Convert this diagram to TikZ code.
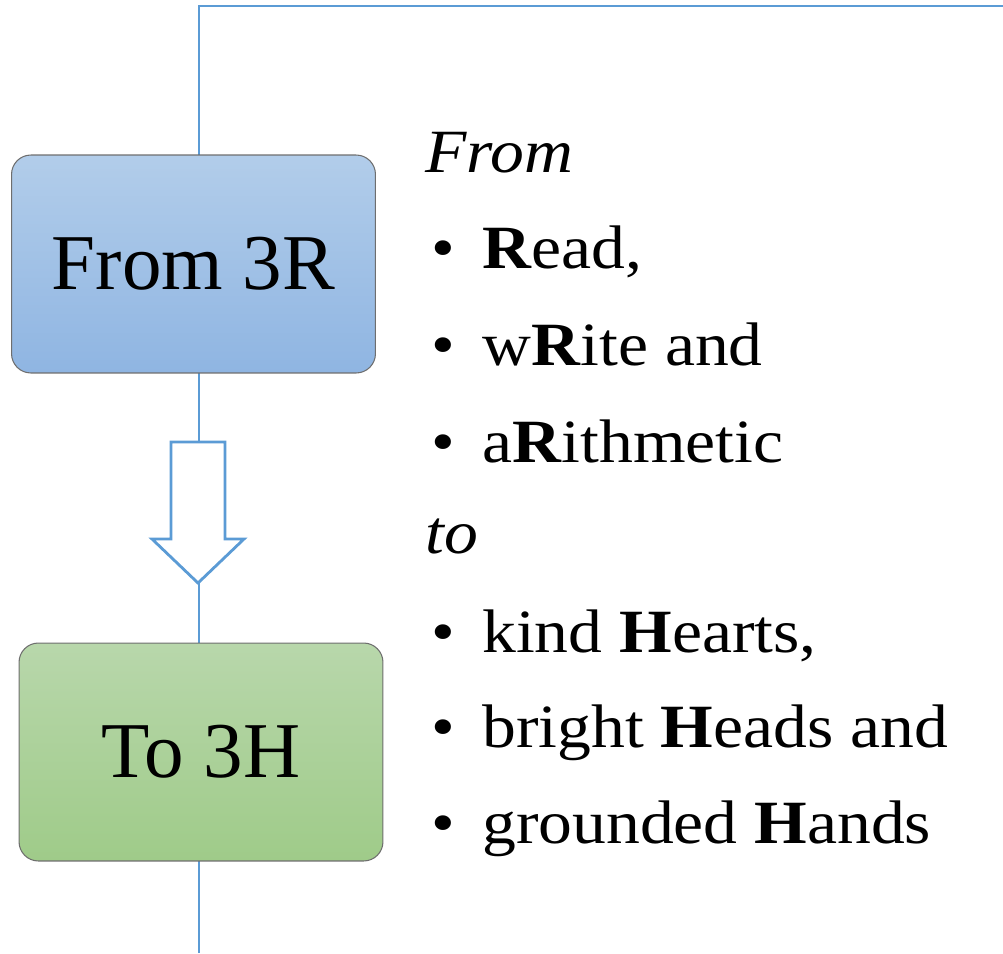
\documentclass[tikz,border=0pt]{standalone}
\usepackage{fontspec}
\setmainfont{Liberation Serif}
\newfontfamily\listfont[FakeStretch=1.1]{Liberation Serif}
\usetikzlibrary{positioning,calc}

\definecolor{lineblue}{RGB}{91,155,213}
\definecolor{edgegray}{RGB}{110,110,110}
\definecolor{bluetop}{RGB}{178,205,234}
\definecolor{bluebot}{RGB}{143,181,226}
\definecolor{greentop}{RGB}{184,215,171}
\definecolor{greenbot}{RGB}{159,203,137}

\newcommand{\itm}[1]{\makebox[29pt][l]{\textbullet}#1}

\begin{document}
\begin{tikzpicture}[
  x = 0.02cm,
  y = -0.02cm,
  flow/.style = {
    draw = lineblue,
    line width = 1.6pt,
  },
  stagebox/.style = {
    draw = edgegray,
    rounded corners = 11pt,
    line width = 0.6pt,
    minimum width = 7.28cm,
    minimum height = 4.36cm,
    font = \fontsize{45}{54}\selectfont,
  },
  listline/.style = {
    anchor = base west,
    inner sep = 0pt,
    font = \listfont\fontsize{35}{42}\selectfont,
  },
]

  \useasboundingbox (0,0) rectangle (1003,953);

  % the line behind the boxes
  \coordinate (lbot) at (199,953);
  \coordinate (ltop) at (199,6);
  \coordinate (lend) at (1003,6);
  \draw[flow] (lbot) -- (ltop) -- (lend);

  \node[stagebox, top color=bluetop, bottom color=bluebot] (from3r) at (193.5,264) {From 3R};
  \node[stagebox, top color=greentop, bottom color=greenbot] (to3h) at (201,752) {To 3H};

  % hollow arrow between the boxes
  \coordinate (arr) at (198,442);
  \filldraw[flow, fill=white, line join=miter]
    ($(arr)+(-27,0)$) -- ($(arr)+(27,0)$) -- ($(arr)+(27,97)$) -- ($(arr)+(46,97)$)
    -- ($(arr)+(0,141)$) -- ($(arr)+(-46,97)$) -- ($(arr)+(-27,97)$) -- cycle;

  % text on the right
  \node[listline] (hdfrom) at (425,172) {\textit{From}};
  \node[listline] (itread) at (431,268) {\itm{\textbf{R}ead,}};
  \node[listline] (itwrite) at (431,365) {\itm{w\textbf{R}ite and}};
  \node[listline] (itarith) at (431,462) {\itm{a\textbf{R}ithmetic}};
  \node[listline] (hdto) at (425,553) {\textit{to}};
  \node[listline] (ithearts) at (431,652) {\itm{kind \textbf{H}earts,}};
  \node[listline] (itheads) at (431,747) {\itm{bright \textbf{H}eads and}};
  \node[listline] (ithands) at (431,843) {\itm{grounded \textbf{H}ands}};
\end{tikzpicture}
\end{document}
